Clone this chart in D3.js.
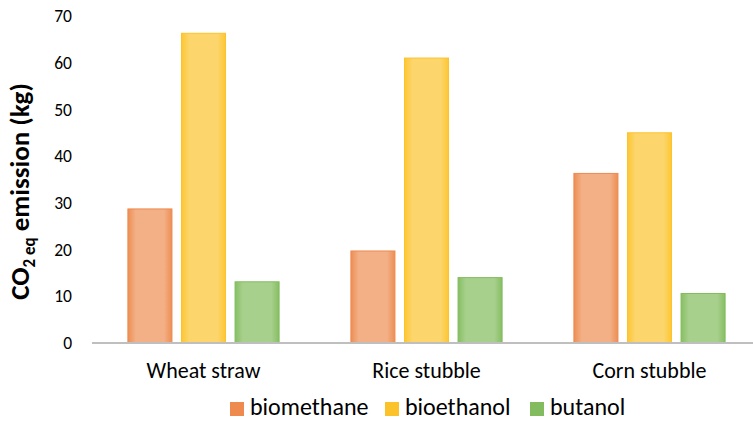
<!DOCTYPE html>
<html>
<head>
<meta charset="utf-8">
<script src="https://cdn.jsdelivr.net/npm/d3@7/dist/d3.min.js"></script>
<style>
  html, body { margin: 0; padding: 0; background: #fff; }
  svg { display: block; font-family: Carlito, Calibri, Lato, "Open Sans", sans-serif; }
</style>
</head>
<body>
<svg id="chart" width="753" height="424"></svg>
<script>
// Feedstocks along the x axis
const categories = ["Wheat straw", "Rice stubble", "Corn stubble"];
// Fuel routes (one bar per feedstock each)
const seriesNames = ["biomethane", "bioethanol", "butanol"];
// CO2-eq emission per route, kg, in category order
const biomethane = [28.7, 19.7, 36.3];
const bioethanol = [66.3, 61.0, 45.0];
const butanol = [13.1, 14.0, 10.6];
const yTicks = [0, 10, 20, 30, 40, 50, 60, 70];

const seriesValues = [biomethane, bioethanol, butanol];
const palette = {
  biomethane: { edge: "#ED8E55", mid: "#F3B086", line: "#EE8A4E" },
  bioethanol: { edge: "#FDC633", mid: "#FCD66C", line: "#FCC22A" },
  butanol:    { edge: "#86BF63", mid: "#A8D08D", line: "#82BC5E" }
};
const FONT = "Carlito, Calibri, Lato, sans-serif";

const svg = d3.select("#chart");
const plot = { left: 92, right: 761, top: 16, bottom: 343 };

const x = d3.scaleBand().domain(categories).range([plot.left, plot.right]);
const xs = d3.scaleBand().domain(seriesNames).range([0, x.bandwidth()])
  .paddingInner(0.178).paddingOuter(0.67);
const y = d3.scaleLinear().domain([0, 70]).range([plot.bottom, plot.top]);

// Soft glow fills: darker at the sides, lighter in the middle
const defs = svg.append("defs");
seriesNames.forEach(name => {
  const c = palette[name];
  const g = defs.append("linearGradient").attr("id", "grad-" + name)
    .attr("x1", "0").attr("x2", "1").attr("y1", "0").attr("y2", "0");
  g.append("stop").attr("offset", "0").attr("stop-color", c.edge);
  g.append("stop").attr("offset", "0.18").attr("stop-color", c.mid);
  g.append("stop").attr("offset", "0.82").attr("stop-color", c.mid);
  g.append("stop").attr("offset", "1").attr("stop-color", c.edge);
});

// Y axis: labels only, no line or ticks
const yAxis = svg.append("g")
  .attr("transform", `translate(${plot.left - 20},0)`)
  .call(d3.axisLeft(y).tickValues(yTicks).tickSize(0).tickPadding(0));
yAxis.select(".domain").remove();
yAxis.selectAll("text").attr("font-size", 17.5).attr("fill", "#000")
  .attr("font-family", FONT);

// Bars
const groups = svg.append("g").selectAll("g")
  .data(categories)
  .join("g")
  .attr("transform", d => `translate(${x(d)},0)`);

groups.selectAll("rect")
  .data((cat, i) => seriesNames.map((s, k) => ({ series: s, value: seriesValues[k][i] })))
  .join("rect")
  .attr("x", d => xs(d.series))
  .attr("width", xs.bandwidth())
  .attr("y", d => y(d.value))
  .attr("height", d => y(0) - y(d.value))
  .attr("fill", d => `url(#grad-${d.series})`)
  .attr("stroke", d => palette[d.series].line)
  .attr("stroke-width", 1);

// Baseline
svg.append("line")
  .attr("x1", plot.left).attr("x2", plot.right)
  .attr("y1", y(0)).attr("y2", y(0))
  .attr("stroke", "#BFBFBF").attr("stroke-width", 2);

// Category labels
const xAxis = svg.append("g")
  .attr("transform", `translate(0,${y(0)})`)
  .call(d3.axisBottom(x).tickSize(0));
xAxis.select(".domain").remove();
xAxis.selectAll("text")
  .attr("y", 35).attr("dy", 0)
  .attr("font-size", 22).attr("fill", "#000")
  .attr("font-family", FONT);

// Y axis title with subscript
const title = svg.append("text")
  .attr("transform", `translate(29,${(plot.top + plot.bottom) / 2 + 12}) rotate(-90)`)
  .attr("text-anchor", "middle")
  .attr("font-size", 27)
  .attr("font-weight", "bold")
  .attr("font-family", FONT)
  .attr("fill", "#000");
title.append("tspan").text("CO");
title.append("tspan").text("2 eq").attr("font-size", 17).attr("dy", 6);
title.append("tspan").text(" emission (kg)").attr("dy", -6);

// Legend
const legendItems = [
  { name: "biomethane", x: 230 },
  { name: "bioethanol", x: 385 },
  { name: "butanol", x: 530 }
];
const legend = svg.append("g").selectAll("g")
  .data(legendItems)
  .join("g")
  .attr("transform", d => `translate(${d.x},402)`);
legend.append("rect")
  .attr("width", 14).attr("height", 14)
  .attr("fill", d => palette[d.name].line);
legend.append("text")
  .attr("x", 20).attr("y", 13)
  .attr("font-size", 24).attr("font-family", FONT).attr("fill", "#000")
  .text(d => d.name);
</script>
</body>
</html>
